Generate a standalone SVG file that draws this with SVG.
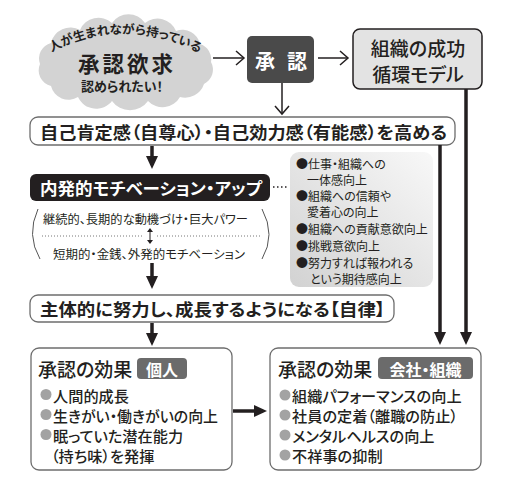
<svg xmlns="http://www.w3.org/2000/svg" width="516" height="485" viewBox="0 0 516 485">
<defs>
<style>
text{font-family:"Noto Sans CJK JP","Noto Sans CJK SC",sans-serif;fill:#231f20;font-feature-settings:"palt";dominant-baseline:central}
.b{font-weight:700}
.m{font-weight:500}
.box{fill:#fff;stroke:#6d6d6d;stroke-width:1.3}
.thick{stroke:#231f20;stroke-width:3.5;fill:none}
.thin{stroke:#231f20;stroke-width:1.5;fill:none}
.w{fill:#fff}
.dot{fill:#a3a3a3}
.pt{font-size:12px}
.bt{font-size:15.2px}
</style>
<marker id="ah" markerUnits="userSpaceOnUse" viewBox="0 0 13 12" markerWidth="13" markerHeight="12" refX="9" refY="6" orient="auto"><path d="M0,0L13,6L0,12z" fill="#231f20"/></marker>
<linearGradient id="pg" x1="0" y1="1" x2="1" y2="0"><stop offset="0" stop-color="#d2d2d2"/><stop offset="1" stop-color="#f8f8f8"/></linearGradient>
<path id="arc" d="M48,54 Q128,10 214,61"/>
</defs>

<g id="cloud">
<path d="M40,64 A16,16 0 0 1 51,43 A20,20 0 0 1 80,30 A20,20 0 0 1 112,23 A20,20 0 0 1 145,23 A20,20 0 0 1 176,31 A18,18 0 0 1 200,44 A16,16 0 0 1 211,62 A16,16 0 0 1 204,84 A20,20 0 0 1 180,97 A20,20 0 0 1 148,101 A22,22 0 0 1 112,101 A20,20 0 0 1 78,97 A18,18 0 0 1 51,86 A16,16 0 0 1 40,64 Z" fill="#d3d3d3"/>
<text class="b" font-size="12.5" style="dominant-baseline:auto"><textPath href="#arc" startOffset="4">人が生まれながら持っている</textPath></text>
<text class="b" x="127" y="62" font-size="21.5" letter-spacing="3" text-anchor="middle">承認欲求</text>
<text class="b" x="122" y="85.5" font-size="13" text-anchor="middle">認められたい！</text>
</g>

<g id="shonin">
<rect x="247" y="36" width="67" height="47" rx="5" fill="#4a4a4a"/>
<text class="b w" x="265" y="60" font-size="20" text-anchor="middle">承</text>
<text class="b w" x="297" y="60" font-size="20" text-anchor="middle">認</text>
</g>

<g id="model">
<rect x="353" y="29" width="129" height="60" rx="7" fill="#e3e3e3" stroke="#231f20" stroke-width="1.5"/>
<text class="m" x="418" y="47" font-size="19" text-anchor="middle">組織の成功</text>
<text class="m" x="418" y="73" font-size="19" text-anchor="middle">循環モデル</text>
</g>

<g id="jiko">
<rect class="box" x="30" y="117" width="425" height="28" rx="8"/>
<text class="b" x="40" y="131" font-size="17" textLength="407" lengthAdjust="spacingAndGlyphs">自己肯定感（自尊心）・自己効力感（有能感）を高める</text>
</g>

<g id="naihatsu">
<rect x="30" y="174" width="240" height="27" rx="6" fill="#231f20"/>
<text class="b w" x="40" y="187.5" font-size="16.5" textLength="222" lengthAdjust="spacingAndGlyphs">内発的モチベーション・アップ</text>
</g>

<g id="compare">
<path d="M38,209 Q26,235 40,259" fill="none" stroke="#555" stroke-width="1"/>
<path d="M262,209 Q276,235 262,259" fill="none" stroke="#555" stroke-width="1"/>
<text x="43" y="218" font-size="12" textLength="205" lengthAdjust="spacingAndGlyphs">継続的、長期的な動機づけ・巨大パワー</text>
<line x1="42" y1="236" x2="144" y2="236" stroke="#777" stroke-width="1" stroke-dasharray="1,2"/>
<line x1="157" y1="236" x2="262" y2="236" stroke="#777" stroke-width="1" stroke-dasharray="1,2"/>
<line x1="150" y1="231" x2="150" y2="241" stroke="#231f20" stroke-width="1"/>
<path d="M147,232 L150,228 L153,232 Z M147,240 L150,244 L153,240 Z" fill="#231f20"/>
<text x="53" y="253" font-size="12" textLength="192" lengthAdjust="spacingAndGlyphs">短期的・金銭、外発的モチベーション</text>
</g>

<g id="effects-list">
<rect x="290" y="152" width="143" height="135" rx="9" fill="url(#pg)"/>
<text class="pt" x="296" y="163">●仕事・組織への</text>
<text class="pt" x="307" y="179">一体感向上</text>
<text class="pt" x="296" y="195">●組織への信頼や</text>
<text class="pt" x="307" y="211">愛着心の向上</text>
<text class="pt" x="296" y="228">●組織への貢献意欲向上</text>
<text class="pt" x="296" y="245">●挑戦意欲向上</text>
<text class="pt" x="296" y="262">●努力すれば報われる</text>
<text class="pt" x="310" y="278">という期待感向上</text>
</g>

<g id="shutai">
<rect class="box" x="30" y="295" width="364" height="27" rx="8"/>
<text class="b" x="40" y="308.5" font-size="17" textLength="345" lengthAdjust="spacingAndGlyphs">主体的に努力し、成長するようになる【自律】</text>
</g>

<g id="kojin">
<rect class="box" x="31" y="348" width="201" height="122" rx="8"/>
<text class="m" x="38" y="368" font-size="19">承認の効果</text>
<rect x="137" y="358" width="50" height="21" rx="4" fill="#6b6b6b"/>
<text class="b w" x="162" y="368.5" font-size="16" text-anchor="middle">個人</text>
<circle class="dot" cx="46" cy="394.5" r="5.5"/>
<circle class="dot" cx="46" cy="414.5" r="5.5"/>
<circle class="dot" cx="46" cy="434.5" r="5.5"/>
<text class="bt m" x="53" y="394.5">人間的成長</text>
<text class="bt m" x="53" y="414.5" textLength="165" lengthAdjust="spacingAndGlyphs">生きがい・働きがいの向上</text>
<text class="bt m" x="53" y="434.5">眠っていた潜在能力</text>
<text class="bt m" x="51" y="454.5">（持ち味）を発揮</text>
</g>

<g id="kaisha">
<rect class="box" x="270" y="348" width="211" height="122" rx="8"/>
<text class="m" x="278" y="368" font-size="19">承認の効果</text>
<rect x="378" y="357" width="95" height="22" rx="4" fill="#6b6b6b"/>
<text class="b w" x="425.5" y="368.5" font-size="16" text-anchor="middle">会社・組織</text>
<circle class="dot" cx="285" cy="395" r="5.5"/>
<circle class="dot" cx="285" cy="415" r="5.5"/>
<circle class="dot" cx="285" cy="435" r="5.5"/>
<circle class="dot" cx="285" cy="455" r="5.5"/>
<text class="bt m" x="292" y="395">組織パフォーマンスの向上</text>
<text class="bt m" x="292" y="415">社員の定着（離職の防止）</text>
<text class="bt m" x="292" y="435">メンタルヘルスの向上</text>
<text class="bt m" x="292" y="455">不祥事の抑制</text>
</g>

<g id="connectors">
<line class="thin" x1="213" y1="58" x2="244" y2="58"/>
<polyline class="thin" points="236,51 244,58 236,65"/>
<line class="thin" x1="318" y1="58" x2="348" y2="58"/>
<polyline class="thin" points="340,51 348,58 340,65"/>
<line class="thin" x1="282" y1="83" x2="282" y2="114"/>
<polyline class="thin" points="275,106 282,114 289,106"/>
<line x1="273" y1="187" x2="289" y2="187" stroke="#231f20" stroke-width="1.5" stroke-dasharray="1.5,2.5"/>
<line class="thick" x1="152" y1="146" x2="152" y2="165" marker-end="url(#ah)"/>
<line class="thick" x1="152" y1="263" x2="152" y2="285" marker-end="url(#ah)"/>
<line class="thick" x1="152" y1="323" x2="152" y2="342" marker-end="url(#ah)"/>
<line class="thick" x1="233" y1="411" x2="263" y2="411" marker-end="url(#ah)"/>
<line class="thick" x1="440" y1="145" x2="440" y2="341" marker-end="url(#ah)"/>
<line class="thick" x1="466" y1="89" x2="466" y2="341" marker-end="url(#ah)"/>
</g>
</svg>
